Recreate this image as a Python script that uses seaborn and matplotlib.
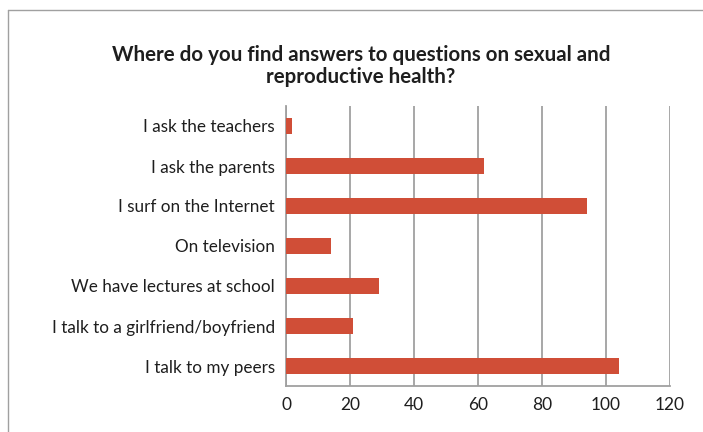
import matplotlib
matplotlib.use("Agg")
import matplotlib.pyplot as plt
import seaborn as sns
import pandas as pd
from matplotlib.lines import Line2D

# Data
categories = [
    "I ask the teachers",
    "I ask the parents",
    "I surf on the Internet",
    "On television",
    "We have lectures at school",
    "I talk to a girlfriend/boyfriend",
    "I talk to my peers",
]
counts = [2, 62, 94, 14, 29, 21, 104]
x_ticks = [0, 20, 40, 60, 80, 100, 120]

BAR_COLOR = "#D04E37"
GRID_COLOR = "#A0A0A0"
TEXT_COLOR = "#1E1E1E"

sns.set_style("white")
plt.rcParams["font.family"] = ["Lato", "DejaVu Sans"]

df = pd.DataFrame({"source": categories, "count": counts})

fig = plt.figure(figsize=(7.03, 4.32), dpi=100)
ax = fig.add_axes([286 / 703, 1 - 386 / 432, 384 / 703, 280 / 432])

sns.barplot(data=df, y="source", x="count", color=BAR_COLOR, width=0.42,
            saturation=1, linewidth=0, ax=ax, zorder=3)

ax.set_xlim(0, 120)
ax.set_ylim(len(categories) - 0.5, -0.5)
ax.set_xticks(x_ticks)
ax.set_xlabel("")
ax.set_ylabel("")

# vertical grid lines only
ax.grid(axis="x", color=GRID_COLOR, linewidth=1.3, zorder=0)
ax.grid(axis="y", visible=False)

for side in ["top", "right"]:
    ax.spines[side].set_visible(False)
for side in ["left", "bottom"]:
    ax.spines[side].set_color(GRID_COLOR)
    ax.spines[side].set_linewidth(1.3)

# ticks: x down at each value, y at category boundaries
ax.tick_params(axis="x", length=5, width=1.3, color=GRID_COLOR, labelsize=12.5,
               labelcolor=TEXT_COLOR, pad=3, direction="out")
ax.tick_params(axis="y", which="major", length=0, labelsize=12.3,
               labelcolor=TEXT_COLOR, pad=8)
ax.set_yticks([i + 0.5 for i in range(-1, len(categories))], minor=True)
ax.tick_params(axis="y", which="minor", length=5, width=1.3, color=GRID_COLOR,
               direction="out")

fig.text(361 / 703, 1 - 66 / 432,
         "Where do you find answers to questions on sexual and\nreproductive health?",
         ha="center", va="center", fontsize=14.8, fontweight="bold",
         color=TEXT_COLOR, linespacing=1.15)

# outer chart border (top and left edges are visible)
fig.add_artist(Line2D([8 / 703, 8 / 703], [0, 1 - 10 / 432], transform=fig.transFigure,
                      color="#A0A0A0", linewidth=1.0))
fig.add_artist(Line2D([8 / 703, 1], [1 - 10 / 432, 1 - 10 / 432], transform=fig.transFigure,
                      color="#A0A0A0", linewidth=1.0))

fig.savefig("out.png", dpi=100)
